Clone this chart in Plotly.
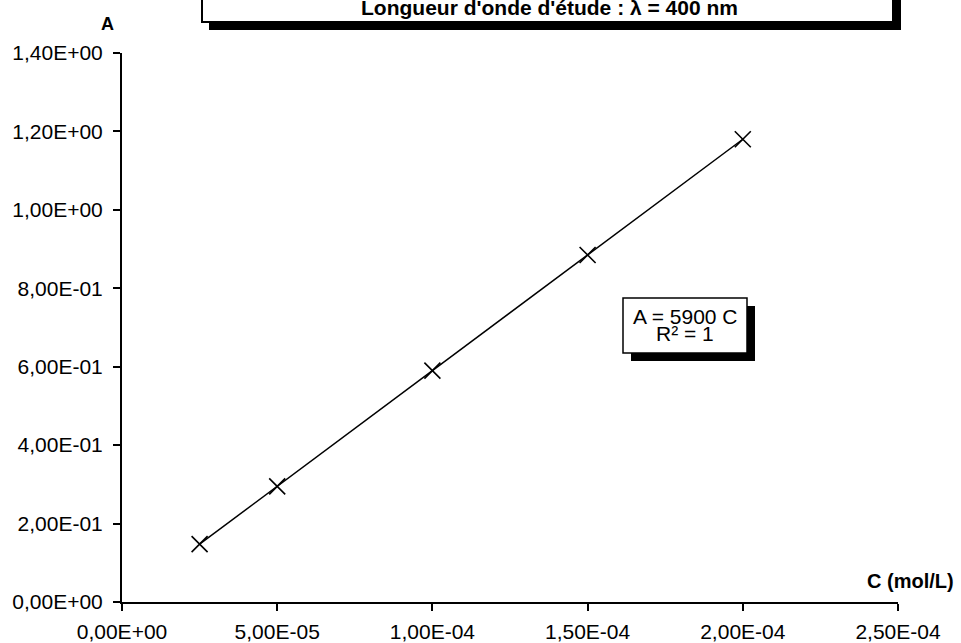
import plotly.graph_objects as go

# Data
conc = [2.5e-5, 5.0e-5, 1.0e-4, 1.5e-4, 2.0e-4]
absorb = [0.1475, 0.295, 0.59, 0.885, 1.18]
x_ticks = [0, 5e-5, 1e-4, 1.5e-4, 2e-4, 2.5e-4]
x_ticktext = ["0,00E+00", "5,00E-05", "1,00E-04", "1,50E-04", "2,00E-04", "2,50E-04"]
y_ticks = [0, 0.2, 0.4, 0.6, 0.8, 1.0, 1.2, 1.4]
y_ticktext = ["0,00E+00", "2,00E-01", "4,00E-01", "6,00E-01", "8,00E-01",
              "1,00E+00", "1,20E+00", "1,40E+00"]
title_text = "Longueur d'onde d'étude : λ = 400 nm"
eq_line1 = "A = 5900 C"
eq_line2 = "R² = 1"

W, H = 961, 643
L, R, T, B = 122, 63, 53, 41
PW, PH = W - L - R, H - T - B
FONT = "Liberation Sans, Arial, sans-serif"

def px(x):
    return (x - L) / PW

def py(y):
    return (H - B - y) / PH

fig = go.Figure()
fig.add_trace(go.Scatter(
    x=conc, y=absorb, mode="lines+markers",
    line=dict(color="black", width=1.5),
    marker=dict(symbol="x-thin-open", size=16, line=dict(color="black", width=1.6), color="black"),
    showlegend=False, hoverinfo="x+y"))

axis_common = dict(showline=True, linecolor="black", linewidth=2, ticks="outside",
                   ticklen=7, tickwidth=2, tickcolor="black", showgrid=False, zeroline=False,
                   tickfont=dict(family=FONT, size=21, color="black"))
fig.update_xaxes(range=[0, 2.5e-4], tickvals=x_ticks, ticktext=x_ticktext,
                 ticklabelstandoff=3, **axis_common)
fig.update_yaxes(range=[0, 1.4], tickvals=y_ticks, ticktext=y_ticktext,
                 ticklabelstandoff=6, **axis_common)

shapes = []
# title box with shadow
shapes.append(dict(type="rect", xref="paper", yref="paper", x0=px(209), x1=px(901), y0=py(30), y1=py(-10),
                   fillcolor="black", line=dict(width=0), layer="above"))
shapes.append(dict(type="rect", xref="paper", yref="paper", x0=px(202), x1=px(893), y0=py(22), y1=py(-10),
                   fillcolor="white", line=dict(color="black", width=2), layer="above"))
# equation box with shadow
shapes.append(dict(type="rect", xref="paper", yref="paper", x0=px(631), x1=px(755), y0=py(361), y1=py(306),
                   fillcolor="black", line=dict(width=0), layer="above"))
shapes.append(dict(type="rect", xref="paper", yref="paper", x0=px(623), x1=px(747), y0=py(353), y1=py(298),
                   fillcolor="white", line=dict(color="black", width=1.5), layer="above"))

annotations = [
    dict(text="<b>" + title_text + "</b>", xref="paper", yref="paper", x=px(549), y=py(8),
         showarrow=False, font=dict(family=FONT, size=21, color="black"), xanchor="center", yanchor="middle"),
    dict(text="<b>A</b>", xref="paper", yref="paper", x=px(107), y=py(24),
         showarrow=False, font=dict(family=FONT, size=18, color="black"), xanchor="center", yanchor="middle"),
    dict(text="<b>C (mol/L)</b>", xref="paper", yref="paper", x=px(910), y=py(581),
         showarrow=False, font=dict(family=FONT, size=20, color="black"), xanchor="center", yanchor="middle"),
    dict(text=eq_line1, xref="paper", yref="paper", x=px(685), y=py(316),
         showarrow=False, font=dict(family=FONT, size=21, color="black"), xanchor="center", yanchor="middle"),
    dict(text=eq_line2, xref="paper", yref="paper", x=px(685), y=py(333),
         showarrow=False, font=dict(family=FONT, size=21, color="black"), xanchor="center", yanchor="middle"),
]

fig.update_layout(width=W, height=H, margin=dict(l=L, r=R, t=T, b=B, autoexpand=False),
                  paper_bgcolor="white", plot_bgcolor="white",
                  shapes=shapes, annotations=annotations)

fig.write_html("out.html", config={"displayModeBar": False},
               post_script="document.body.style.margin='0';document.body.style.overflow='hidden';")
